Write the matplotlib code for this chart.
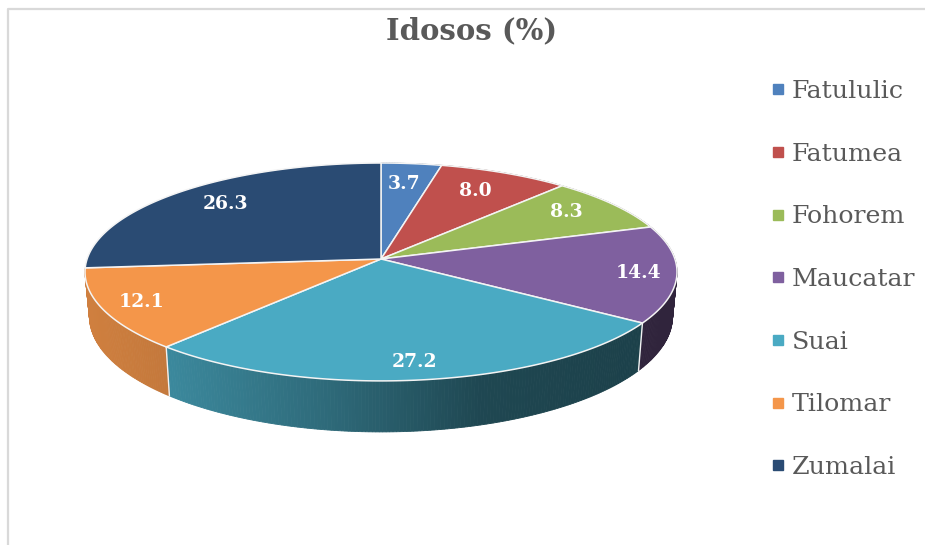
import numpy as np
import matplotlib
matplotlib.use("Agg")
import matplotlib.pyplot as plt
from matplotlib.lines import Line2D

title = "Idosos (%)"
places = ["Fatululic", "Fatumea", "Fohorem", "Maucatar", "Suai", "Tilomar", "Zumalai"]
values = [3.7, 8.0, 8.3, 14.4, 27.2, 12.1, 26.3]
colors = ["#4f81bd", "#c0504d", "#9bbb59", "#7f609f", "#4aaac3", "#f4964a", "#2a4b73"]

# where the number of each slice sits, in pixels
label_x = [404, 475, 566, 639, 414, 142, 225]
label_y = [184, 191, 212, 273, 362, 302, 204]

cx, cy = 381, 259
a, b, k = 293.9, 107.4, 0.119


def project(ang):
    # ang is clockwise from 12 o'clock, tilted disc with perspective
    x = np.sin(ang)
    y = np.cos(ang)
    w = 1 + k * y
    return cx + a * x / w, cy - b * y / w


def lower(sx, sy):
    # rim of the underside of the disc
    return cx + (sx - cx) * 0.985, cy + 43.7 + (sy - cy) * 1.06


def shade(x):
    return np.interp(x, [85, 170, 330, 480, 640, 678], [0.85, 0.8, 0.62, 0.42, 0.38, 0.38])


fig = plt.figure(figsize=(9.25, 5.45), dpi=100)
ax = fig.add_axes([0, 0, 1, 1])
ax.set_xlim(0, 925)
ax.set_ylim(545, 0)
ax.axis("off")

# chart frame, only top and left are in the crop
ax.plot([8, 8, 925], [545, 8.5, 8.5], color="#d9d9d9", lw=1.6, zorder=1)

edges = np.cumsum([0] + values) / sum(values) * 2 * np.pi

# side wall first, the last slice only faces away from us
for i in range(len(values) - 1):
    n = max(int(values[i] * 6), 2)
    angs = np.linspace(edges[i], edges[i + 1], n + 1)
    base = np.array(matplotlib.colors.to_rgb(colors[i]))
    for j in range(n):
        x1, y1 = project(angs[j])
        x2, y2 = project(angs[j + 1])
        x3, y3 = lower(x2, y2)
        x4, y4 = lower(x1, y1)
        c = base * shade((x1 + x2) / 2)
        ax.fill([x1, x2, x3, x4], [y1, y2, y3, y4], color=c, lw=0.6, zorder=2)
    # white seam between slices
    sx, sy = project(edges[i])
    if np.cos(edges[i]) < 0:
        lx, ly = lower(sx, sy)
        ax.plot([sx, lx], [sy, ly], color="#f2f2f2", lw=1.0, zorder=3)

# top of the disc
for i in range(len(values)):
    angs = np.linspace(edges[i], edges[i + 1], 120)
    xs, ys = project(angs)
    ax.fill(np.r_[cx, xs], np.r_[cy, ys], facecolor=colors[i], edgecolor="#f4f4f4", lw=1.1,
            joinstyle="round", zorder=4)

for i in range(len(values)):
    ax.text(label_x[i], label_y[i], "%.1f" % values[i], color="white", fontsize=13.5,
            fontweight="bold", family="DejaVu Serif", ha="center", va="center", zorder=5)

ax.text(472, 31, title, color="#595959", fontsize=21, fontweight="bold", family="DejaVu Serif",
        ha="center", va="center")

handles = [Line2D([], [], ls="none", marker="s", ms=6.5, color=c) for c in colors]
ax.legend(handles, places, loc="upper left", bbox_to_anchor=(765 / 925, 1 - 80 / 545),
          bbox_transform=ax.transAxes, frameon=False, labelcolor="#595959",
          prop={"family": "DejaVu Serif", "size": 18.2}, labelspacing=1.57, handletextpad=0.05,
          handlelength=1.0, borderaxespad=0, borderpad=0)

plt.savefig("out.png", dpi=100)
